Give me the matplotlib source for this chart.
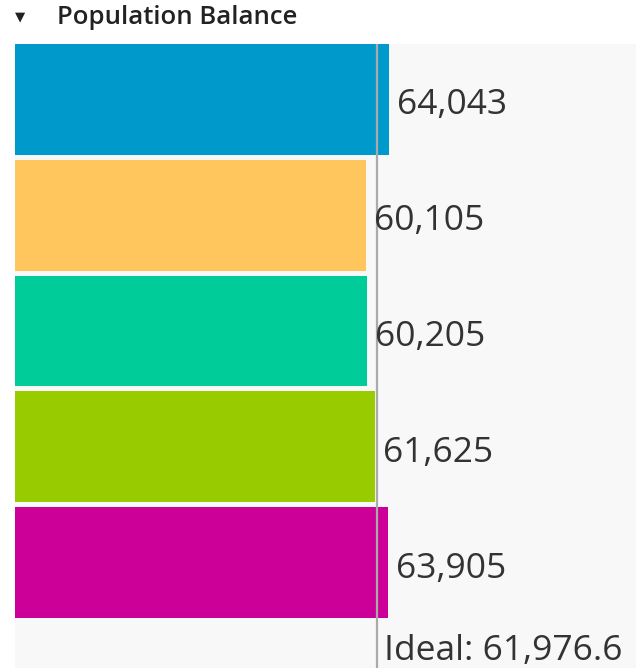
import matplotlib.pyplot as plt
import numpy as np

groups = ['A', 'B', 'C', 'D', 'E']
population = [64043, 60105, 60205, 61625, 63905]
ideal = 61976.6
colors = ['#0099cc', '#fec65c', '#00cc99', '#99cc00', '#cc0099']
title = 'Population Balance'

plt.rcParams['font.family'] = ['Open Sans', 'DejaVu Sans']

fig = plt.figure(figsize=(6.36, 6.70), dpi=100)
ax = fig.add_axes([15/636, 2/670, 1 - 15/636, (668 - 44)/670])
ax.set_facecolor('#f8f8f8')

y = np.arange(len(groups))
ax.barh(y, population, height=0.957, color=colors, zorder=2)
ax.axvline(ideal, color='#aaaaaa', linewidth=1.6, zorder=3)

for yi, v in zip(y, population):
    ax.annotate(f'{v:,}', (v, yi), xytext=(8, -15), textcoords='offset pixels',
                va='baseline', ha='left', fontsize=25.5, color='#333333')
ax.annotate(f'Ideal: {ideal:,.1f}', (ideal, 4.91), xytext=(7, 8),
            textcoords='offset pixels', va='baseline', ha='left',
            fontsize=25.5, color='#333333')

ax.set_xlim(0, 106340)
ax.set_ylim(4.91, -0.479)
ax.set_xticks([])
ax.set_yticks([])
for s in ax.spines.values():
    s.set_visible(False)

fig.text(57/636, 1 - 18/670, title, fontsize=18.5, fontweight='semibold',
         va='center', ha='left', color='#222222')
fig.text(20/636, 1 - 17/670, '\u25bc', fontsize=9.5, va='center', ha='center',
         color='#222222', family=['DejaVu Sans'])

fig.savefig('out.png', dpi=100)
